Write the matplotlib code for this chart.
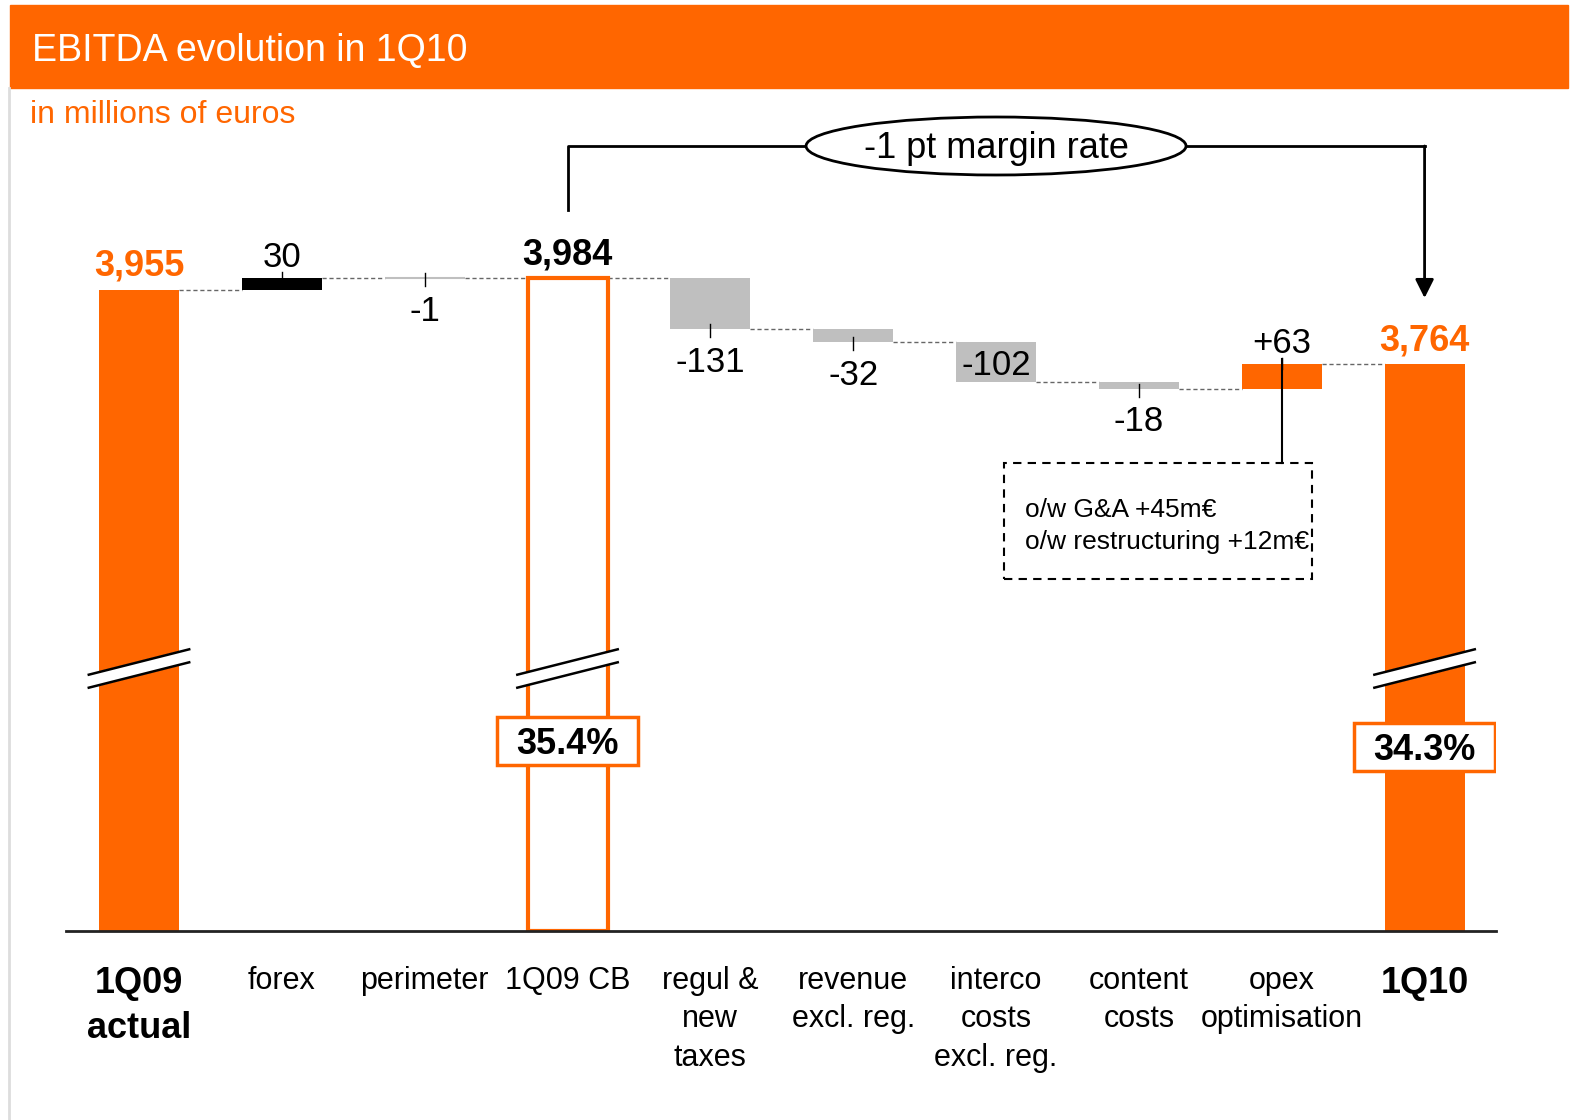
import matplotlib.pyplot as plt
from matplotlib.patches import Rectangle, Ellipse, Polygon
from matplotlib.lines import Line2D

plt.rcParams['font.family'] = ['Liberation Sans', 'DejaVu Sans']

# data
categories = ["1Q09\nactual", "forex", "perimeter", "1Q09 CB", "regul &\nnew\ntaxes",
              "revenue\nexcl. reg.", "interco\ncosts\nexcl. reg.", "content\ncosts",
              "opex\noptimisation", "1Q10"]
kinds = ["total", "delta", "delta", "total", "delta", "delta", "delta", "delta", "delta", "total"]
values = [3955, 30, -1, 3984, -131, -32, -102, -18, 63, 3764]
value_labels = ["3,955", "30", "-1", "3,984", "-131", "-32", "-102", "-18", "+63", "3,764"]
margin_rates = {3: "35.4%", 9: "34.3%"}
margin_note = "-1 pt margin rate"
opex_note = ["o/w G&A +45m€", "o/w restructuring +12m€"]

ORANGE = "#FF6600"
GREY = "#BFBFBF"
bar_colors = [ORANGE, "black", GREY, "white", GREY, GREY, GREY, GREY, ORANGE, ORANGE]
edge_colors = [ORANGE, "black", GREY, ORANGE, GREY, GREY, GREY, GREY, ORANGE, ORANGE]
edge_widths = [0, 0, 1.5, 3, 0, 0, 0, 0, 0, 0]

W, H = 1572, 1120
base = 2314          # value shown at the (broken) baseline
ytop = 4390
kpx = 0.3909         # pixels per million euros

def ypx(p):
    # pixel row -> data value (for decorations only)
    return base + (931 - p) / kpx

def u(p):
    return p / kpx

# waterfall geometry
run = 0
bottoms, heights, ends = [], [], []
for k, v in zip(kinds, values):
    if k == "total":
        bottoms.append(base)
        heights.append(v - base)
        run = v
    else:
        bottoms.append(min(run, run + v))
        heights.append(abs(v))
        run += v
    ends.append(run)

fig = plt.figure(figsize=(W / 100, H / 100), dpi=100)
ax = fig.add_axes([66 / W, 1 - 931 / H, 1430 / W, (ytop - base) * kpx / H])
ax.set_xlim(-0.511, 9.50)
ax.set_ylim(base, ytop)

x = list(range(len(values)))
bw = 0.56
ax.bar(x, heights, bottom=bottoms, width=bw, color=bar_colors,
       edgecolor=edge_colors, linewidth=edge_widths, zorder=2)

# connectors
for i in range(len(values) - 1):
    ax.plot([i + bw / 2, i + 1 - bw / 2], [ends[i], ends[i]], color="#666666",
            lw=1, dashes=(3, 2), zorder=1)

# value labels
for i, (k, v) in enumerate(zip(kinds, values)):
    top = bottoms[i] + heights[i]
    bot = bottoms[i]
    if k == "total":
        ax.annotate(value_labels[i], (i, top), xytext=(0, 10), textcoords="offset points",
                    ha="center", va="baseline", fontsize=26, fontweight="bold",
                    color="black" if i == 3 else ORANGE)
    elif i == 6:
        ax.text(i, (top + bot) / 2 - u(4), value_labels[i], ha="center", va="center",
                fontsize=25)
    elif v > 0:
        ax.plot([i, i], [top - u(5), top + u(6)], color="black", lw=1, zorder=3)
        ax.annotate(value_labels[i], (i, top), xytext=(0, 8), textcoords="offset points",
                    ha="center", va="baseline", fontsize=25)
    else:
        ax.plot([i, i], [bot - u(8), bot + u(5)], color="black", lw=1, zorder=3)
        ax.annotate(value_labels[i], (i, bot), xytext=(0, -12), textcoords="offset points",
                    ha="center", va="top", fontsize=25)

# axis breaks
for i in (0, 3, 9):
    yc = ypx(662)
    dx, dy, gap = 0.36, u(13), u(13)
    ax.add_patch(Polygon([(i - dx, yc - dy), (i + dx, yc + dy), (i + dx, yc + dy - gap),
                          (i - dx, yc - dy - gap)], closed=True, color="white", zorder=4,
                         clip_on=False))
    for off in (0, -gap):
        ax.plot([i - dx, i + dx], [yc - dy + off, yc + dy + off], color="black", lw=1.8,
                zorder=5, solid_capstyle="butt")

# margin boxes
for i, txt in margin_rates.items():
    yc = ypx(741) if i == 3 else ypx(747)
    ax.add_patch(Rectangle((i - 0.495, yc - u(24)), 0.99, u(48), facecolor="white",
                           edgecolor=ORANGE, lw=2.5, zorder=6))
    ax.text(i, yc - u(4), txt, ha="center", va="center", fontsize=26, fontweight="bold",
            zorder=7)

# margin bracket with ellipse
yb = ypx(146)
ax.plot([3, 3, 4.67], [ypx(210), yb, yb], color="black", lw=2, clip_on=False)
ax.plot([7.33, 9], [yb, yb], color="black", lw=2, clip_on=False)
ax.annotate("", xy=(9, ypx(298)), xytext=(9, yb),
            arrowprops=dict(arrowstyle="-|>", color="black", lw=2, mutation_scale=28,
                            shrinkA=0, shrinkB=0), annotation_clip=False)
ax.add_patch(Ellipse((6, yb), 2.66, u(58), facecolor="white", edgecolor="black", lw=2,
                     clip_on=False, zorder=3))
ax.text(6, yb - u(3), margin_note, ha="center", va="center", fontsize=26, zorder=4)

# opex note
ax.plot([8, 8], [ends[8] + u(5), ypx(463)], color="black", lw=1.5, zorder=3)
ax.add_patch(Rectangle((6.057, ypx(579)), 2.157, ypx(463) - ypx(579), fill=False,
                       edgecolor="black", lw=1.5, linestyle=(0, (4, 3))))
ax.text(6.2, ypx(526), "\n".join(opex_note), ha="left", va="center", fontsize=19,
        linespacing=1.38)

# axes styling
for s in ("top", "right", "left"):
    ax.spines[s].set_visible(False)
ax.spines["bottom"].set_linewidth(2)
ax.spines["bottom"].set_color("#222222")
ax.set_yticks([])
ax.set_xticks(x, categories, fontsize=22, linespacing=1.38)
ax.tick_params(axis="x", length=0, pad=25)
for i in (0, 9):
    lab = ax.get_xticklabels()[i]
    lab.set_fontweight("bold")
    lab.set_fontsize(26)

# header
fig.add_artist(Rectangle((10 / W, 1 - 88 / H), 1558 / W, 83 / H, transform=fig.transFigure,
                         color=ORANGE))
fig.add_artist(Line2D([9 / W, 9 / W], [0, 1 - 88 / H], color="#DDDDDD", lw=2))
fig.text(32 / W, 1 - 51 / H, "EBITDA evolution in 1Q10", color="white", fontsize=27,
         va="center", ha="left")
fig.text(30 / W, 1 - 115 / H, "in millions of euros", color=ORANGE, fontsize=23,
         va="center", ha="left")

fig.savefig("out.png", dpi=100)
